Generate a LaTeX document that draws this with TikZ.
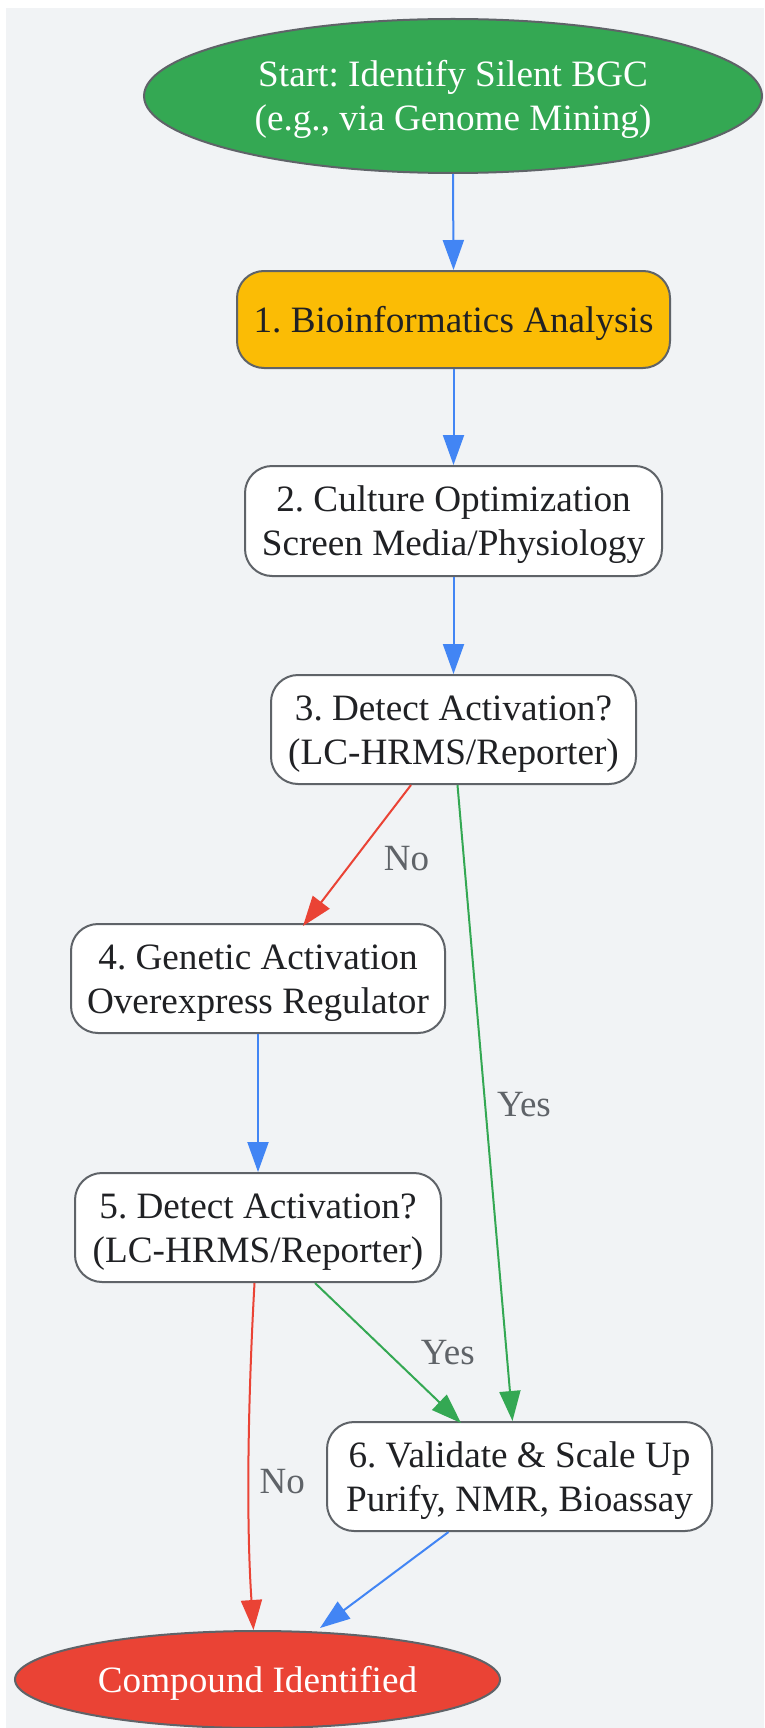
\documentclass[tikz,border=0pt]{standalone}
\usepackage{fontspec}
\setmainfont{Liberation Serif}
\usetikzlibrary{arrows.meta,shapes.geometric,positioning}
\definecolor{bgc}{HTML}{F1F3F5}
\definecolor{bordc}{HTML}{5F6368}
\definecolor{txtc}{HTML}{202124}
\definecolor{gblue}{HTML}{4285F4}
\definecolor{gred}{HTML}{EA4335}
\definecolor{ggreen}{HTML}{34A853}
\definecolor{gyellow}{HTML}{FBBC05}
\newcommand{\fs}{\rule[-0.216em]{0pt}{1.107em}}
\tikzset{
  box/.style={draw=bordc, line width=2pt, rounded corners=27pt, fill=white, text=txtc,
    align=center, inner sep=0pt, font=\fontsize{37.2}{44}\selectfont\frenchspacing},
  oval/.style={ellipse, draw=bordc, line width=2pt, text=white, align=center, inner sep=0pt,
    font=\fontsize{37.2}{44}\selectfont\frenchspacing},
  conn/.style={line width=2pt, -{Triangle[length=30pt,width=21pt]}},
  lbl/.style={text=bordc, font=\fontsize{37}{44}\selectfont, inner sep=0pt}
}
\begin{document}
\begin{tikzpicture}[x=1pt,y=-1pt]
\useasboundingbox (0,0) rectangle (764,1728);
\fill[bgc] (6,8) rectangle (764,1728);
\node[oval, fill=ggreen, minimum width=618pt, minimum height=154pt] (start) at (453,96)
  {\fs Start: Identify Silent BGC\\\fs(e.g., via Genome Mining)};
\node[box, fill=gyellow, minimum width=433pt, minimum height=97pt] (n1) at (453.5,319.5)
  {\fs 1. Bioinformatics Analysis};
\node[box, minimum width=417pt, minimum height=110pt] (n2) at (453.5,521)
  {\fs 2. Culture Optimization\\\fs Screen Media/Physiology};
\node[box, minimum width=365pt, minimum height=109pt] (n3) at (453.5,729.5)
  {\fs 3. Detect Activation?\\\fs(LC-HRMS/Reporter)};
\node[box, minimum width=374pt, minimum height=109pt] (n4) at (258,978.5)
  {\fs 4. Genetic Activation\\\fs Overexpress Regulator};
\node[box, minimum width=366pt, minimum height=109pt] (n5) at (258,1227.5)
  {\fs 5. Detect Activation?\\\fs(LC-HRMS/Reporter)};
\node[box, minimum width=385pt, minimum height=109pt] (n6) at (519.5,1476.5)
  {\fs 6. Validate \& Scale Up\\\fs Purify, NMR, Bioassay};
\node[oval, fill=gred, minimum width=485pt, minimum height=97pt] (end) at (257.5,1679.5)
  {\fs Compound Identified};

\draw[conn, gblue] (start.south) -- (n1.north);
\draw[conn, gblue] (n1.south) -- (n2.north);
\draw[conn, gblue] (n2.south) -- (n3.north);
\draw[conn, gred] ([xshift=-42.5pt]n3.south) -- ([xshift=45pt,yshift=-3pt]n4.north)
  node[lbl, pos=0.52, right=28pt] (lno1) {No};
\draw[conn, ggreen] ([xshift=4pt]n3.south) -- ([xshift=-7pt]n6.north)
  node[lbl, pos=0.5, right=11pt, yshift=-2pt] (lyes1) {Yes};
\draw[conn, gblue] (n4.south) -- (n5.north);
\draw[conn, ggreen] ([xshift=57pt]n5.south) -- ([xshift=-58.5pt,yshift=-2pt]n6.north)
  node[lbl, pos=0.52, above right=-10pt and 29pt] (lyes2) {Yes};
\draw[conn, gred] ([xshift=-3.5pt]n5.south) .. controls (248,1400) and (246,1520) .. ([xshift=-4pt]end.north)
  node[lbl, pos=0.55, right=10pt, yshift=-4.5pt] (lno2) {No};
\draw[conn, gblue] ([xshift=-71pt]n6.south) -- ([xshift=62.5pt,yshift=2pt]end.north);
\end{tikzpicture}
\end{document}
